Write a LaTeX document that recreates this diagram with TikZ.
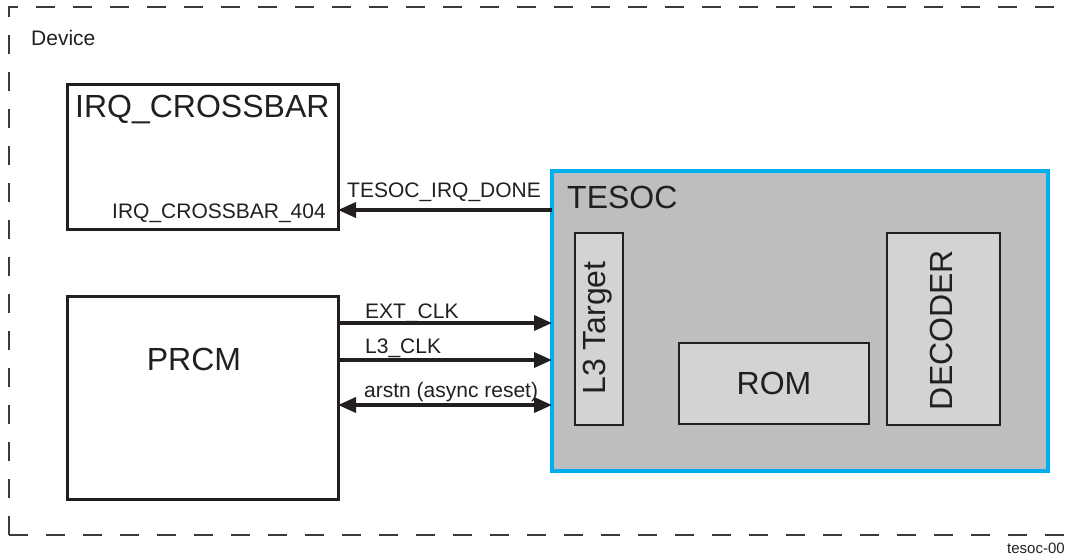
\documentclass[tikz,border=0pt]{standalone}
\usepackage{fontspec}
\setmainfont{Liberation Sans}
\usetikzlibrary{arrows.meta}
\definecolor{ink}{HTML}{231F20}
\definecolor{tesocblue}{HTML}{00AEEF}
\definecolor{tesocgray}{HTML}{BCBEC0}
\definecolor{innergray}{HTML}{D1D3D4}
\definecolor{dashgray}{HTML}{3A3A3C}
\tikzset{
  bigfont/.style={font=\fontsize{32}{38}\selectfont},
  smallfont/.style={font=\fontsize{21}{25}\selectfont},
  outerbox/.style={draw=ink, line width=3pt, rectangle, inner sep=0pt, outer sep=0pt, anchor=north west},
  innerbox/.style={draw=ink, line width=1.8pt, fill=innergray, rectangle, inner sep=0pt, outer sep=0pt, anchor=north west},
  sig/.style={draw=ink, line width=3.5pt, -{Triangle[length=18pt,width=15pt]}},
  sigboth/.style={draw=ink, line width=3.5pt, {Triangle[length=18pt,width=15pt]}-{Triangle[length=18pt,width=15pt]}},
  lbl/.style={smallfont, text=ink, anchor=base west, inner sep=0pt},
  frame/.style={dashgray, line width=2.3pt, dash pattern=on 19pt off 18pt},
}
\begin{document}
\begin{tikzpicture}[x=1pt,y=-1pt]
\useasboundingbox (0,0) rectangle (1065,558);
\clip (0,0) rectangle (1065,558);
% device dashed frame
\draw[frame] (9,535) -- (9,7) -- (1090,7);
\draw[frame] (9,535) -- (1090,535);
\node[lbl] (device) at (31,45) {Device};
% IRQ crossbar
\node[outerbox, minimum width=271pt, minimum height=145pt] (irq) at (67,84) {};
\node[bigfont, text=ink, anchor=base west, inner sep=0pt] (irqt) at (75,117) {IRQ\_CROSSBAR};
\node[lbl] (irq404) at (112,218) {IRQ\_CROSSBAR\_404};
% PRCM
\node[outerbox, minimum width=271pt, minimum height=203pt] (prcm) at (67,296) {};
\node[bigfont, text=ink, anchor=base, inner sep=0pt] (prcmt) at (194,370) {PRCM};
% TESOC
\node[draw=tesocblue, fill=tesocgray, line width=3.5pt, rectangle, inner sep=0pt, outer sep=0pt, anchor=north west, minimum width=496pt, minimum height=300pt] (tesoc) at (552,171) {};
\node[bigfont, text=ink, anchor=base west, inner sep=0pt] (tesoct) at (567,208) {TESOC};
\node[innerbox, minimum width=48pt, minimum height=192pt] (l3) at (575,233) {};
\node[bigfont, text=ink, rotate=90, inner sep=0pt] (l3t) at (598,328) {L3 Target};
\node[innerbox, minimum width=190pt, minimum height=81pt] (rom) at (679,343) {};
\node[bigfont, text=ink, inner sep=0pt] (romt) at (rom.center) {ROM};
\node[innerbox, minimum width=113pt, minimum height=192pt] (dec) at (887,233) {};
\node[bigfont, text=ink, rotate=90, inner sep=0pt] (dect) at (941,330) {DECODER};
% signals
\draw[sig] (tesoc.west |- 0,210) -- (irq.east |- 0,210);
\node[lbl] (done) at (347,197) {TESOC\_IRQ\_DONE};
\draw[sig] (prcm.east |- 0,323) -- (tesoc.west |- 0,323);
\node[lbl] (ext) at (365,318) {EXT\_CLK};
\draw[sig] (prcm.east |- 0,360) -- (tesoc.west |- 0,360);
\node[lbl] (l3clk) at (365,353) {L3\_CLK};
\draw[sigboth] (prcm.east |- 0,405) -- (tesoc.west |- 0,405);
\node[lbl] (arstn) at (364,397) {arstn (async reset)};
% figure id
\node[font=\fontsize{15}{18}\selectfont, text=ink, anchor=base west, inner sep=0pt] (fig) at (1007,553) {tesoc-001};
\end{tikzpicture}
\end{document}
